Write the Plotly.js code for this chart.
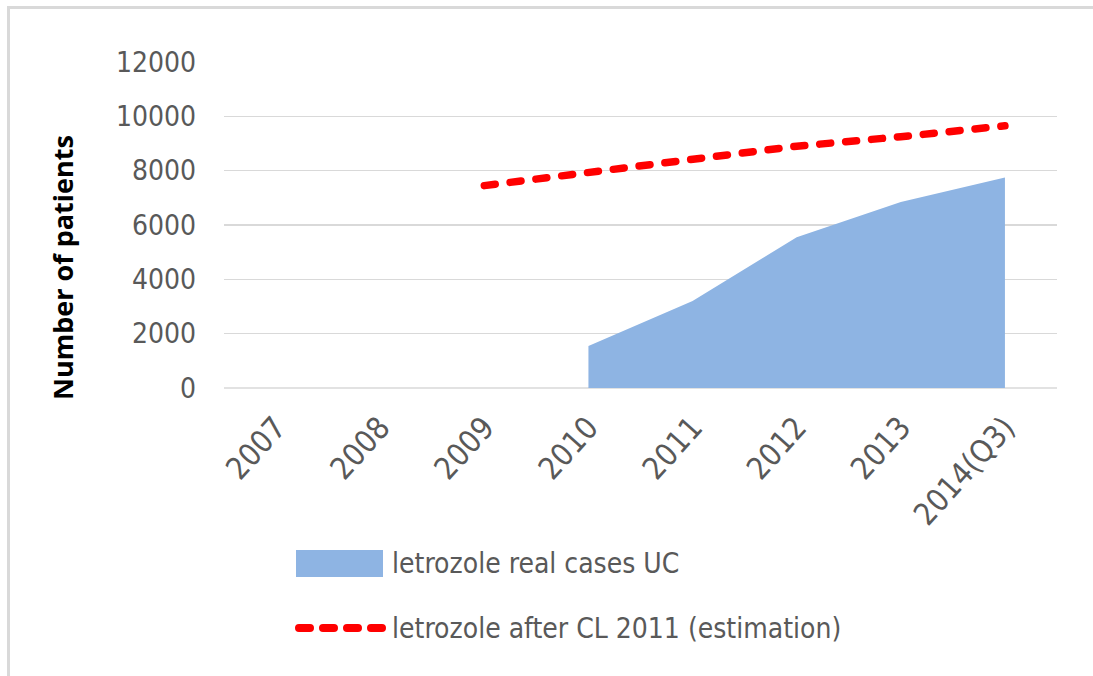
<!DOCTYPE html>
<html>
<head>
<meta charset="utf-8">
<script src="https://cdn.plot.ly/plotly-3.0.1.min.js"></script>
<style>
  html, body { margin: 0; padding: 0; background: #fff; }
  #wrap { position: relative; width: 1093px; height: 676px; overflow: hidden; }
  #frame { position: absolute; left: 7px; top: 6px; width: 1200px; height: 800px; border-left: 3px solid #d9d9d9; border-top: 3px solid #d9d9d9; pointer-events: none; z-index: 5; }
  #chart { position: absolute; left: 0; top: 0; width: 1093px; height: 676px; }
  .scatterlayer path.js-line, .shapelayer path.dashcap { stroke-linecap: round; }
</style>
</head>
<body>
<div id="wrap">
  <div id="chart"></div>
  <div id="frame"></div>
</div>
<script>
const categories = ["2007", "2008", "2009", "2010", "2011", "2012", "2013", "2014(Q3)"];
const realCases = [null, null, null, 1550, 3200, 5550, 6850, 7750];
const estimation = [null, null, 7450, 7950, 8450, 8900, 9250, 9650];
const yTicks = [0, 2000, 4000, 6000, 8000, 10000, 12000];
const seriesNames = ["letrozole real cases UC", "letrozole after CL 2011 (estimation)"];
const yTitle = "Number of patients";

const L = 224, R = 1057, T = 62, B = 388;
const W = 1093, H = 676;
const px = x => (x - L) / (R - L);
const py = y => (B - y) / (B - T);

const font = "'Liberation Sans Narrow', 'DejaVu Sans Condensed', sans-serif";
const grey = "#595959";

const traces = [
  {
    x: categories, y: realCases, type: "scatter", mode: "lines",
    fill: "tozeroy", fillcolor: "#8eb4e3",
    line: { width: 0, color: "#8eb4e3" },
    name: seriesNames[0], showlegend: false, hoverinfo: "x+y"
  },
  {
    x: categories, y: estimation, type: "scatter", mode: "lines",
    line: { width: 7.5, color: "#ff0000", dash: "11px,15px" },
    name: seriesNames[1], showlegend: false, hoverinfo: "x+y"
  }
];

const layout = {
  width: W, height: H,
  margin: { l: L, r: W - R, t: T, b: H - B, pad: 0 },
  paper_bgcolor: "#ffffff", plot_bgcolor: "#ffffff",
  showlegend: false,
  xaxis: {
    type: "category", categoryorder: "array", categoryarray: categories,
    range: [-0.5, categories.length - 0.5],
    tickangle: -48, tickfont: { family: font, size: 31, color: grey },
    showgrid: false, zeroline: false, showline: false, ticks: "",
    ticklabelstandoff: 14
  },
  yaxis: {
    range: [0, 12000], tickvals: yTicks, ticktext: yTicks.map(String),
    tickfont: { family: font, size: 28, color: grey },
    showgrid: true, gridcolor: "#d9d9d9", gridwidth: 1.5,
    zeroline: false, showline: false, ticks: "", ticklabelstandoff: 27
  },
  shapes: [
    { type: "line", xref: "paper", yref: "paper", x0: 0, x1: 1, y0: 0, y1: 0, line: { color: "#d9d9d9", width: 1.5 }, layer: "below" },
    { type: "rect", xref: "paper", yref: "paper", x0: px(296), x1: px(383), y0: py(577), y1: py(550), fillcolor: "#8eb4e3", line: { width: 0 } },
    { type: "line", xref: "paper", yref: "paper", x0: px(299), x1: px(383), y0: py(628), y1: py(628), line: { color: "#ff0000", width: 8, dash: "11px,13px" } }
  ],
  annotations: [
    { xref: "paper", yref: "paper", x: px(62), y: py(268), xanchor: "center", yanchor: "middle", textangle: -90, text: "<b>" + yTitle + "</b>", showarrow: false, font: { family: "'Open Sans', sans-serif", size: 27, color: "#000" } },
    { xref: "paper", yref: "paper", x: px(390), y: py(563), xanchor: "left", yanchor: "middle", text: seriesNames[0], showarrow: false, font: { family: font, size: 28, color: grey } },
    { xref: "paper", yref: "paper", x: px(390), y: py(628), xanchor: "left", yanchor: "middle", text: seriesNames[1], showarrow: false, font: { family: font, size: 28, color: grey } }
  ]
};

Plotly.newPlot("chart", traces, layout, { displayModeBar: false, staticPlot: true }).then(() => {
  document.querySelectorAll(".shapelayer path").forEach(p => {
    if (p.style.strokeDasharray && p.style.strokeDasharray !== "none") p.classList.add("dashcap");
  });
});
</script>
</body>
</html>
